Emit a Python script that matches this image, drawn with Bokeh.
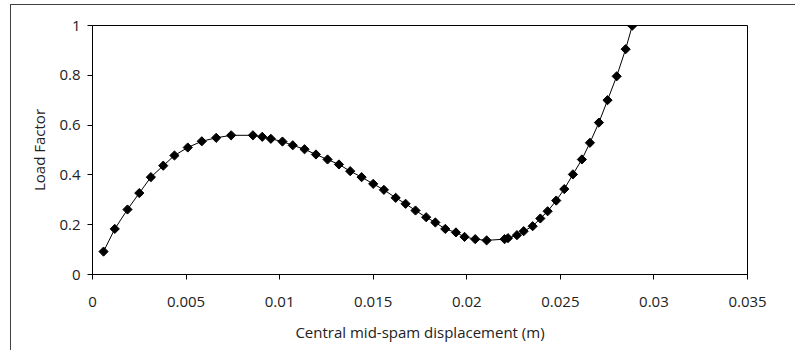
import math
from bokeh.plotting import figure
from bokeh.models import FixedTicker
from bokeh.embed import file_html
from bokeh.resources import INLINE

# Data
displacement = [0.00059, 0.00119, 0.00187, 0.00250, 0.00312, 0.00378, 0.00438, 0.00509,
                0.00584, 0.00661, 0.00741, 0.00857, 0.00907, 0.00953, 0.01015, 0.01070,
                0.01133, 0.01194, 0.01256, 0.01317, 0.01377, 0.01438, 0.01500, 0.01557,
                0.01620, 0.01673, 0.01726, 0.01783, 0.01832, 0.01885, 0.01942, 0.01988,
                0.02045, 0.02106, 0.02202, 0.02220, 0.02268, 0.02304, 0.02352, 0.02393,
                0.02432, 0.02478, 0.02521, 0.02567, 0.02615, 0.02658, 0.02706, 0.02752,
                0.02801, 0.02849, 0.02884]
load_factor = [0.092, 0.183, 0.261, 0.327, 0.391, 0.437, 0.478, 0.510,
               0.535, 0.549, 0.559, 0.559, 0.553, 0.545, 0.534, 0.519,
               0.503, 0.482, 0.462, 0.442, 0.415, 0.391, 0.364, 0.340,
               0.308, 0.284, 0.257, 0.230, 0.209, 0.183, 0.169, 0.151,
               0.142, 0.137, 0.142, 0.146, 0.158, 0.174, 0.194, 0.225,
               0.254, 0.297, 0.343, 0.402, 0.462, 0.529, 0.610, 0.700,
               0.796, 0.905, 0.999]

x_ticks = [0, 0.005, 0.01, 0.015, 0.02, 0.025, 0.03, 0.035]
x_tick_labels = ["0", "0.005", "0.01", "0.015", "0.02", "0.025", "0.03", "0.035"]
y_ticks = [0, 0.2, 0.4, 0.6, 0.8, 1.0]
y_tick_labels = ["0", "0.2", "0.4", "0.6", "0.8", "1"]

FONT = "Open Sans"

p = figure(width=785, height=346, output_backend="svg", toolbar_location=None,
           x_range=(0, 0.035), y_range=(0, 1),
           min_border_left=81, min_border_right=49, min_border_top=20, min_border_bottom=77)
p.styles = {"margin-top": "4px", "margin-left": "10px",
            "border-top": "1px solid #404040", "border-left": "1px solid #404040"}

p.xgrid.visible = False
p.ygrid.visible = False
p.outline_line_color = "black"
p.outline_line_width = 1
p.background_fill_color = "white"
p.border_fill_color = "white"

p.line(displacement, load_factor, line_color="black", line_width=1)
p.scatter(displacement, load_factor, marker="square", angle=math.pi / 4, size=6.5,
          fill_color="black", line_color="black")

p.xaxis.ticker = FixedTicker(ticks=x_ticks)
p.xaxis.major_label_overrides = {t: l for t, l in zip(x_ticks, x_tick_labels)}
p.yaxis.ticker = FixedTicker(ticks=y_ticks)
p.yaxis.major_label_overrides = {t: l for t, l in zip(y_ticks, y_tick_labels)}

for ax in (p.xaxis, p.yaxis):
    ax.axis_line_color = "black"
    ax.major_tick_line_color = "black"
    ax.minor_tick_line_color = None
    ax.major_tick_in = 0
    ax.major_tick_out = 5
    ax.major_label_text_font = FONT
    ax.major_label_text_font_size = "15px"
    ax.major_label_text_color = "#222222"
    ax.axis_label_text_font = FONT
    ax.axis_label_text_font_size = "15px"
    ax.axis_label_text_font_style = "normal"
    ax.axis_label_text_color = "#222222"

p.xaxis.axis_label = "Central mid-spam displacement (m)"
p.yaxis.axis_label = "Load Factor"
p.xaxis.major_label_standoff = 17
p.xaxis.axis_label_standoff = 12
p.yaxis.major_label_standoff = 7
p.yaxis.axis_label_standoff = 7

open("out.html", "w").write(file_html(p, INLINE))
